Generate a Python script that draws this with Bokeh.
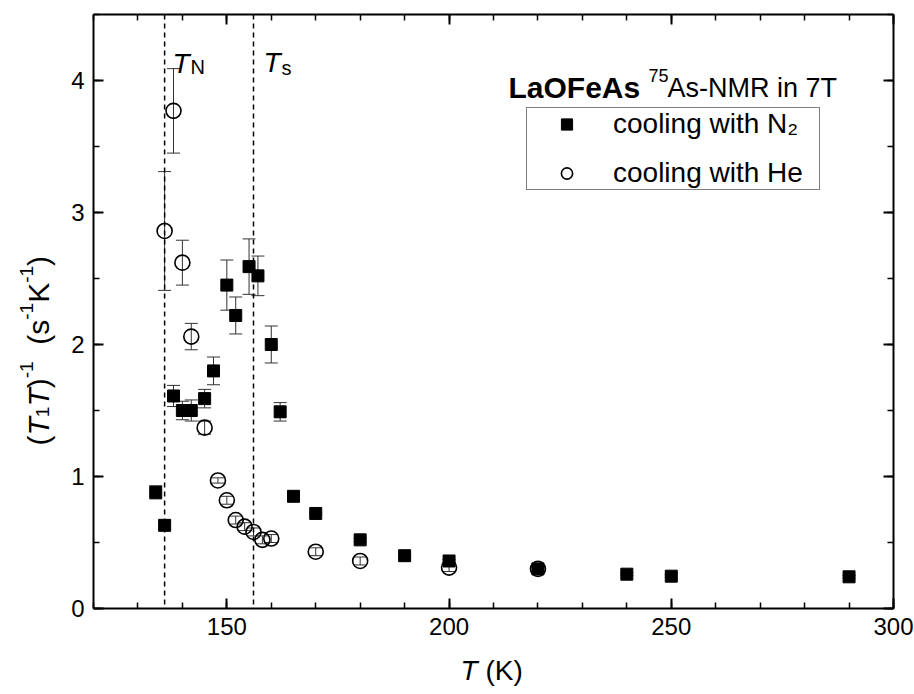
import math
from bokeh.plotting import figure
from bokeh.layouts import column, row
from bokeh.models import (ColumnDataSource, Whisker, TeeHead, Span, Label, LinearAxis,
                          SingleIntervalTicker, Range1d, Legend, LegendItem,
                          CustomLabelingPolicy)
from bokeh.embed import file_html
from bokeh.resources import INLINE

# ---------------- data ----------------
T_N2 = [134, 136, 138, 140, 142, 145, 147, 150, 152, 155, 157, 160, 162,
        165, 170, 180, 190, 200, 220, 240, 250, 290]
R_N2 = [0.88, 0.63, 1.61, 1.50, 1.50, 1.59, 1.80, 2.45, 2.22, 2.59, 2.52, 2.00, 1.49,
        0.85, 0.72, 0.52, 0.40, 0.36, 0.30, 0.26, 0.245, 0.24]
E_N2 = [0.05, 0.03, 0.08, 0.07, 0.08, 0.07, 0.105, 0.19, 0.14, 0.21, 0.15, 0.14, 0.07,
        0.01, 0.01, 0.01, 0.01, 0.01, 0.01, 0.01, 0.01, 0.01]

T_He = [136, 138, 140, 142, 145, 148, 150, 152, 154, 156, 158, 160, 170, 180, 200, 220]
R_He = [2.86, 3.77, 2.62, 2.06, 1.37, 0.97, 0.82, 0.67, 0.62, 0.58, 0.52, 0.53,
        0.43, 0.36, 0.31, 0.30]
E_He = [0.45, 0.32, 0.17, 0.10, 0.05, 0.02, 0.03, 0.03, 0.03, 0.03, 0.03, 0.03,
        0.03, 0.03, 0.03, 0.02]

T_NEEL = 136      # T_N
T_STRUCT = 156    # T_s

LABEL_N2 = "cooling with N\u2082"
LABEL_HE = "cooling with He"

# ---------------- layout ----------------
W, H = 914, 694
YL_W = 60            # strip for the y-axis title
XL_H = 38            # strip for the x-axis title
MW, MH = W - YL_W, H - XL_H
FL, FT, FB = 93, 14, 608          # page position of the main frame (left, top, bottom)
BL, BR, BT, BB = FL - YL_W, 21, FT, MH - FB
X0, X1 = 120, 300
Y0, Y1 = 0, 4.5
FONT = "Liberation Sans"

p = figure(width=MW, height=MH, x_range=Range1d(X0, X1), y_range=Range1d(Y0, Y1),
           output_backend="svg", toolbar_location=None, title=None,
           x_axis_location=None, y_axis_location=None,
           min_border_left=BL, min_border_right=BR, min_border_top=BT, min_border_bottom=BB)
p.outline_line_color = None
p.background_fill_color = "white"
p.border_fill_color = "white"
p.grid.grid_line_color = None

NO_LABELS = CustomLabelingPolicy(code="""
const ids = [...indices.ones()];
for (const i of ids) {
  if (indices.unset) { indices.unset(i) } else { indices.set(i, false) }
}
return indices;
""")


def mk_axis(kind, labels):
    if kind == "x":
        t = SingleIntervalTicker(interval=50, num_minor_ticks=5)
    else:
        t = SingleIntervalTicker(interval=1, num_minor_ticks=2)
    ax = LinearAxis(ticker=t)
    ax.axis_line_width = 2
    ax.axis_line_color = "black"
    ax.major_tick_in = 10
    ax.major_tick_out = 0
    ax.minor_tick_in = 6
    ax.minor_tick_out = 0
    ax.major_tick_line_width = 2
    ax.minor_tick_line_width = 1.5
    ax.major_tick_line_color = "black"
    ax.minor_tick_line_color = "black"
    ax.major_label_text_font = FONT
    ax.major_label_text_font_size = "24px"
    ax.major_label_text_color = "black"
    ax.major_label_standoff = 9
    if not labels:
        ax.major_label_policy = NO_LABELS
        ax.major_label_text_font_size = "1px"
        ax.major_label_standoff = 0
    return ax


p.add_layout(mk_axis("x", True), "below")
p.add_layout(mk_axis("x", False), "above")
p.add_layout(mk_axis("y", True), "left")
p.add_layout(mk_axis("y", False), "right")

# ---------------- data glyphs ----------------
src_n2 = ColumnDataSource(dict(T=T_N2, R=R_N2,
                               lo=[r - e for r, e in zip(R_N2, E_N2)],
                               hi=[r + e for r, e in zip(R_N2, E_N2)]))
src_he = ColumnDataSource(dict(T=T_He, R=R_He,
                               lo=[r - e for r, e in zip(R_He, E_He)],
                               hi=[r + e for r, e in zip(R_He, E_He)]))


def mk_whisker(src):
    w = Whisker(source=src, base="T", upper="hi", lower="lo", dimension="height",
                line_color="#333333", line_width=1,
                upper_head=TeeHead(size=13, line_color="#333333", line_width=1),
                lower_head=TeeHead(size=13, line_color="#333333", line_width=1))
    w.level = "underlay"
    return w


p.add_layout(mk_whisker(src_n2))
p.add_layout(mk_whisker(src_he))

for loc in (T_NEEL, T_STRUCT):
    p.add_layout(Span(location=loc, dimension="height", line_color="black",
                      line_dash="5 4", line_width=1.5))

sq = p.scatter("T", "R", source=src_n2, marker="square", size=12,
               fill_color="black", line_color="black")
ci = p.scatter("T", "R", source=src_he, marker="circle", size=15,
               fill_color=None, line_color="black", line_width=1.6)

legend = Legend(items=[LegendItem(label=LABEL_N2, renderers=[sq]),
                       LegendItem(label=LABEL_HE, renderers=[ci])],
                location=(433, 418), margin=0, padding=0, spacing=17,
                glyph_height=28, glyph_width=79, label_height=28, label_standoff=7,
                label_width=206, label_text_font=FONT, label_text_font_size="28px",
                label_text_color="black", label_text_line_height=1.0,
                border_line_color="black", border_line_width=1.5,
                background_fill_color="white", background_fill_alpha=1)
p.add_layout(legend)


# ---------------- text (positions given in page pixels) ----------------
def lab(plot, ox, oy_bottom, px, py, text, size, style="normal", angle=0.0):
    """ox: page x of the plot frame's left edge; oy_bottom: page y of its bottom edge"""
    L = Label(x=px - ox, y=oy_bottom - py, x_units="screen", y_units="screen",
              text=text, text_font=FONT, text_font_size=f"{size}px",
              text_font_style=style, text_color="black", text_align="left",
              text_baseline="alphabetic", angle=angle)
    plot.add_layout(L)


MAIN = (p, FL, FB)

# T_N and T_s labels
lab(*MAIN, 172, 63, "T", 28, "italic")
lab(*MAIN, 190, 66, "N", 20)
lab(*MAIN, 263, 62, "T", 28, "italic")
lab(*MAIN, 281, 67, "s", 20)

# title
lab(*MAIN, 508, 87, "LaOFeAs", 30, "bold")
lab(*MAIN, 648, 75, "75", 18)
lab(*MAIN, 667, 87, "As-NMR in 7T", 27)


def strip(w, h):
    s = figure(width=w, height=h, output_backend="svg", toolbar_location=None, title=None,
               x_axis_location=None, y_axis_location=None,
               x_range=Range1d(0, 1), y_range=Range1d(0, 1),
               min_border_left=0, min_border_right=0, min_border_top=0, min_border_bottom=0)
    s.outline_line_color = None
    s.grid.grid_line_color = None
    s.background_fill_color = "white"
    s.border_fill_color = "white"
    return s


# x axis title strip (below)
xs = strip(W, XL_H)
XS = (xs, 0, H)
lab(*XS, 460, 670, "T", 28, "italic")
lab(*XS, 460 + (0.611 + 0.278) * 28, 670, "(K)", 28)

# y axis title strip (left); its frame is aligned with the main frame
ys = strip(YL_W, MH)
YS = (ys, 0, FB)
EM = {"(": 0.333, ")": 0.333, "T": 0.611, "1": 0.556, "-": 0.333, " ": 0.278,
      "s": 0.5, "K": 0.667}
F, f = 30, 19
pieces = [("(", F, "normal", 0), ("T", F, "italic", 0), ("1", f, "normal", 4),
          ("T", F, "italic", 0), (")", F, "normal", 0), ("-1", f, "normal", -12),
          ("  ", F, None, 0), ("(s", F, "normal", 0), ("-1", f, "normal", -12),
          ("K", F, "normal", 0), ("-1", f, "normal", -12), (")", F, "normal", 0)]
ypos = 445.0
base_x = 38.0
for txt, sz, st, off in pieces:
    if st is not None:
        lab(*YS, base_x + off, ypos, txt, sz, st, angle=math.pi / 2)
    ypos -= sum(EM[c] for c in txt) * sz

layout = column(row(ys, p, spacing=0), xs, spacing=0)
open("out.html", "w").write(file_html(layout, INLINE))
